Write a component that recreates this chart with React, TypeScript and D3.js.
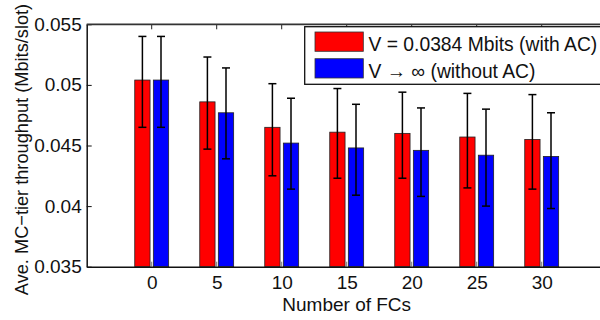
import { useEffect, useRef } from 'react';
import * as d3 from 'd3';

const fcs = [0, 5, 10, 15, 20, 25, 30];
const withAC = [0.0504, 0.0486, 0.0465, 0.0461, 0.0460, 0.0457, 0.0455];
const withACUpper = [0.0540, 0.0523, 0.0501, 0.0497, 0.0494, 0.0493, 0.0492];
const withACLower = [0.0465, 0.0447, 0.0425, 0.0423, 0.0423, 0.0415, 0.0414];
const withoutAC = [0.0504, 0.0477, 0.0452, 0.0448, 0.0446, 0.0442, 0.0441];
const withoutACUpper = [0.0540, 0.0514, 0.0489, 0.0484, 0.0481, 0.0480, 0.0477];
const withoutACLower = [0.0465, 0.0439, 0.0414, 0.0409, 0.0408, 0.0400, 0.0398];
const yTicks = [0.035, 0.04, 0.045, 0.05, 0.055];
const seriesNames = ['V = 0.0384 Mbits (with AC)', 'V \u2192 \u221e (without AC)'];
const seriesColors = ['#ff0000', '#0000ff'];

const FONT = '"Liberation Sans", Arial, Helvetica, sans-serif';

export default function App() {
  const svgRef = useRef<SVGSVGElement>(null);
  const width = 600;
  const height = 320;

  useEffect(() => {
    if (!svgRef.current) return;
    const svg = d3.select(svgRef.current);
    svg.selectAll('*').remove();

    const left = 86.7;
    const top = 24.3;
    const bottom = 266.7;

    const x = d3.scaleLinear().domain([-5, 35]).range([left, left + 520]);
    const y = d3.scaleLinear().domain([0.035, 0.055]).range([bottom, top]);

    const barW = 15.3;
    const gap = 1.65;

    const series = [
      { vals: withAC, hi: withACUpper, lo: withACLower, off: -gap - barW },
      { vals: withoutAC, hi: withoutACUpper, lo: withoutACLower, off: gap },
    ];

    series.forEach((s, si) => {
      const g = svg.append('g');
      g.selectAll('rect')
        .data(fcs)
        .enter().append('rect')
        .attr('x', d => x(d) + s.off)
        .attr('y', (d, i) => y(s.vals[i]))
        .attr('width', barW)
        .attr('height', (d, i) => bottom - y(s.vals[i]))
        .attr('fill', seriesColors[si])
        .attr('stroke', '#222')
        .attr('stroke-width', 0.8);
    });

    // x ticks (inward, bottom and top)
    fcs.forEach(d => {
      svg.append('line')
        .attr('x1', x(d)).attr('x2', x(d))
        .attr('y1', bottom).attr('y2', bottom - 5)
        .attr('stroke', '#777').attr('stroke-width', 1);
      svg.append('line')
        .attr('x1', x(d)).attr('x2', x(d))
        .attr('y1', top).attr('y2', top + 5)
        .attr('stroke', '#222').attr('stroke-width', 1);
    });

    // error bars
    series.forEach(s => {
      const g = svg.append('g').attr('stroke', '#000').attr('stroke-width', 1.5);
      fcs.forEach((d, i) => {
        const cx = x(d) + s.off + barW / 2;
        g.append('line').attr('x1', cx).attr('x2', cx).attr('y1', y(s.hi[i])).attr('y2', y(s.lo[i]));
        g.append('line').attr('x1', cx - 4).attr('x2', cx + 4).attr('y1', y(s.hi[i])).attr('y2', y(s.hi[i]));
        g.append('line').attr('x1', cx - 4).attr('x2', cx + 4).attr('y1', y(s.lo[i])).attr('y2', y(s.lo[i]));
      });
    });

    // axes
    const yAxis = d3.axisLeft(y)
      .tickValues(yTicks)
      .tickSizeInner(-5)
      .tickSizeOuter(0)
      .tickPadding(5)
      .tickFormat(d => String(+(d as number).toFixed(3)));
    const yg = svg.append('g').attr('transform', `translate(${left},0)`).call(yAxis);
    yg.select('.domain').attr('stroke', '#111').attr('stroke-width', 1.5);
    yg.selectAll('.tick line').attr('stroke', '#111');
    yg.selectAll('text').attr('font-family', FONT).attr('font-size', 19).attr('fill', '#111');

    const xAxis = d3.axisBottom(x)
      .tickValues(fcs)
      .tickSize(0)
      .tickPadding(8.5)
      .tickFormat(d => String(d));
    const xg = svg.append('g').attr('transform', `translate(0,${bottom})`).call(xAxis);
    xg.select('.domain').attr('stroke', '#111').attr('stroke-width', 1.5);
    xg.selectAll('text').attr('font-family', FONT).attr('font-size', 19).attr('fill', '#111');

    svg.append('line')
      .attr('x1', left).attr('x2', width)
      .attr('y1', top).attr('y2', top)
      .attr('stroke', '#333').attr('stroke-width', 1.8);

    // axis titles
    svg.append('text')
      .attr('x', (x(0) + x(30)) / 2)
      .attr('y', 311)
      .attr('text-anchor', 'middle')
      .attr('font-family', FONT)
      .attr('font-size', 19)
      .attr('fill', '#111')
      .text('Number of FCs');

    svg.append('text')
      .attr('transform', 'rotate(-90)')
      .attr('x', -149.5)
      .attr('y', 28)
      .attr('text-anchor', 'middle')
      .attr('font-family', FONT)
      .attr('font-size', 18.2)
      .attr('fill', '#111')
      .text('Ave. MC\u2212tier throughput (Mbits/slot)');

    // legend
    const legend = svg.append('g').attr('transform', 'translate(304.7,26.7)');
    legend.append('rect')
      .attr('x', 0).attr('y', 0).attr('width', 320).attr('height', 57.6)
      .attr('fill', '#fff').attr('stroke', '#111').attr('stroke-width', 1.3);
    seriesNames.forEach((name, i) => {
      legend.append('rect')
        .attr('x', 10.3).attr('y', 5.3 + i * 26.7)
        .attr('width', 48.3).attr('height', 19.3)
        .attr('fill', seriesColors[i]).attr('stroke', '#333').attr('stroke-width', 0.8);
      legend.append('text')
        .attr('x', 63.8).attr('y', 24 + i * 27)
        .attr('font-family', FONT)
        .attr('font-size', 19.3)
        .attr('fill', '#111')
        .text(name);
    });
  }, []);

  return (
    <svg
      ref={svgRef}
      width={width}
      height={height}
      style={{ position: 'absolute', left: 0, top: 0, background: '#fff' }}
    />
  );
}
